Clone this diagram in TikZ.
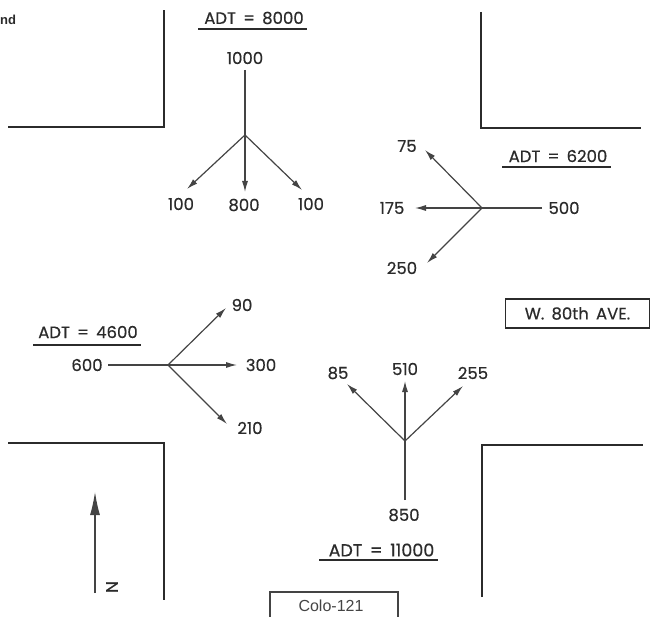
\documentclass[tikz,border=0pt]{standalone}
\usepackage{fontspec}
\setmainfont{Poppins}[FakeBold=0.5]
\newfontfamily\platefont{Liberation Sans}
\usetikzlibrary{arrows.meta}
\definecolor{PlateInk}{HTML}{2B2B2B}
\definecolor{ArrowInk}{HTML}{444444}
\tikzset{
  kerb/.style={draw=PlateInk,line width=1.7pt},
  flow/.style={draw=ArrowInk,line width=1.2pt,-{Latex[length=11pt,width=6pt]}},
  feed/.style={draw=ArrowInk,line width=1.2pt},
  count/.style={text=PlateInk,font=\fontsize{16.5}{18}\selectfont,inner sep=0pt},
  rule/.style={draw=PlateInk,line width=1.3pt}
}
\begin{document}
\begin{tikzpicture}[x=1pt,y=-1pt,>=Latex]
  \useasboundingbox (0,0) rectangle (653,617);
  % kerbs
  \draw[kerb] (8,127)--(164,127)--(164,10);
  \draw[kerb] (481,12)--(481,128)--(641,128);
  \draw[kerb] (8,443)--(164,443)--(164,600);
  \draw[kerb] (482,597)--(482,445)--(643,445);
  \node[count,anchor=west,font=\platefont\bfseries\fontsize{13}{15}\selectfont] (cutword) at (0,20) {nd};
  % north leg
  \coordinate (jN) at (245,135);
  \coordinate (inN) at (245,70);
  \foreach \name/\x/\y in {aN/187/189,bN/245/192,cN/302/190}
    {\coordinate (\name) at (\x,\y);}
  \draw[feed] (inN)--(jN);
  \foreach \name in {aN,bN,cN}
    {\draw[flow] (jN)--(\name);}
  \node[count] (adtN) at (254,18) {ADT\, =\, 8000};
  \coordinate (ulNa) at (198,29);
  \coordinate (ulNb) at (307,29);
  \draw[rule] (ulNa)--(ulNb);
  \node[count] (nN) at (245,58) {1000};
  \node[count] (lN1) at (181,204) {100};
  \node[count] (lN2) at (244,205) {800};
  \node[count] (lN3) at (311,204) {100};
  % east leg
  \coordinate (jE) at (482,208);
  \coordinate (inE) at (542,208);
  \foreach \name/\x/\y in {aE/425/150,bE/415/208,cE/427/263}
    {\coordinate (\name) at (\x,\y);}
  \draw[feed] (inE)--(jE);
  \foreach \name in {aE,bE,cE}
    {\draw[flow] (jE)--(\name);}
  \node[count] (adtE) at (558,156) {ADT\, =\, 6200};
  \coordinate (ulEa) at (502,167);
  \coordinate (ulEb) at (611,167);
  \draw[rule] (ulEa)--(ulEb);
  \node[count] (nE) at (564,208) {500};
  \node[count] (lE1) at (407,146) {75};
  \node[count] (lE2) at (392,208) {175};
  \node[count] (lE3) at (402,268) {250};
  % west leg
  \coordinate (jW) at (168,365);
  \coordinate (inW) at (108,365);
  \foreach \name/\x/\y in {aW/226/308,bW/237/365,cW/227/424}
    {\coordinate (\name) at (\x,\y);}
  \draw[feed] (inW)--(jW);
  \foreach \name in {aW,bW,cW}
    {\draw[flow] (jW)--(\name);}
  \node[count] (adtW) at (88,332) {ADT\, =\, 4600};
  \coordinate (ulWa) at (33,345);
  \coordinate (ulWb) at (141,345);
  \draw[rule] (ulWa)--(ulWb);
  \node[count] (nW) at (87,365) {600};
  \node[count] (lW1) at (242,305) {90};
  \node[count] (lW2) at (261,365) {300};
  \node[count] (lW3) at (250,428) {210};
  % south leg
  \coordinate (jS) at (405,441);
  \coordinate (inS) at (405,500);
  \foreach \name/\x/\y in {aS/347/384,bS/405/381,cS/463/386}
    {\coordinate (\name) at (\x,\y);}
  \draw[feed] (inS)--(jS);
  \foreach \name in {aS,bS,cS}
    {\draw[flow] (jS)--(\name);}
  \node[count,font=\fontsize{17.5}{19}\selectfont] (adtS) at (381.5,550) {ADT\, =\, 11000};
  \coordinate (ulSa) at (319,560);
  \coordinate (ulSb) at (438,560);
  \draw[rule] (ulSa)--(ulSb);
  \node[count] (nS) at (404,515) {850};
  \node[count] (lS1) at (338,373) {85};
  \node[count] (lS2) at (405,369) {510};
  \node[count] (lS3) at (473,373) {255};
  % north mark
  \coordinate (tailN) at (95,593);
  \coordinate (tipN) at (95,492);
  \draw[draw=ArrowInk,line width=1.1pt,-{Latex[length=23pt,width=10pt]}] (tailN)--(tipN);
  \node[count,rotate=90] (markN) at (112,587) {N};
  % street and plate boxes
  \node[draw=PlateInk,line width=1.4pt,minimum width=144pt,minimum height=29pt,inner sep=0pt,
        font=\fontsize{16.5}{20}\selectfont,text=PlateInk] (street) at (577.5,313.5) {W.\, 80th\, AVE.};
  \node[draw=ArrowInk,line width=1.1pt,minimum width=128pt,minimum height=30pt,inner sep=0pt] (plate) at (334,607) {};
  \node[inner sep=0pt,text=ArrowInk,font=\platefont\fontsize{16}{18}\selectfont] (platetext) at (331,606) {Colo-121};
\end{tikzpicture}
\end{document}
